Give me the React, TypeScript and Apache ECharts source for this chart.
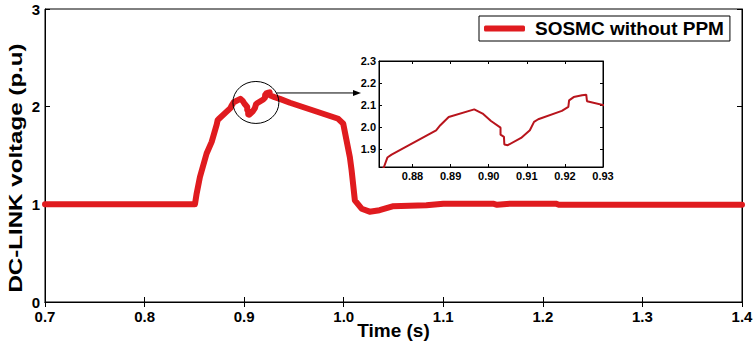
import React, { useEffect, useRef } from "react";
import * as echarts from "echarts";

// Main trace: [time (s), DC-link voltage (p.u)]
const timeValues: number[] = [
  0.7, 0.8506, 0.8523, 0.8556, 0.8623, 0.8674, 0.8725, 0.8734, 0.8745, 0.8862,
  0.8873, 0.8895, 0.8962, 0.8984, 0.9006, 0.9031, 0.9031, 0.904, 0.9041, 0.905,
  0.9085, 0.9108, 0.9119, 0.913, 0.9192, 0.9209, 0.9211, 0.9223, 0.9245, 0.9256,
  0.9258, 0.9305, 0.9359, 0.946, 0.9945, 0.9995, 1.0062, 1.0079, 1.0112, 1.018,
  1.026, 1.036, 1.049, 1.083, 1.1, 1.15, 1.154, 1.167, 1.213, 1.216, 1.4,
];
const voltageValues: number[] = [
  1.0, 1.0, 1.11, 1.28, 1.52, 1.64, 1.818, 1.861, 1.874, 1.985,
  2.008, 2.045, 2.08, 2.061, 2.027, 1.997, 1.965, 1.955, 1.92, 1.917,
  1.95, 1.985, 2.023, 2.035, 2.073, 2.091, 2.121, 2.136, 2.144, 2.147,
  2.117, 2.098, 2.08, 2.04, 1.876, 1.826, 1.48, 1.35, 1.04, 0.955,
  0.925, 0.94, 0.98, 0.99, 1.007, 1.007, 0.995, 1.007, 1.007, 0.995, 0.995,
];

const mainXTicks = { min: 0.7, max: 1.4, interval: 0.1 };
const mainYTicks = { min: 0, max: 3, interval: 1 };
const insetXTickValues: number[] = [0.88, 0.89, 0.9, 0.91, 0.92, 0.93];
const insetYTickValues: number[] = [1.9, 2.0, 2.1, 2.2, 2.3];
const insetXRange: number[] = [0.8712, 0.93];
const insetYRange: number[] = [1.818, 2.3];
const zoomCenter: number[] = [0.9118, 2.043];

const seriesName = "SOSMC without PPM";
const FONT = '"Liberation Sans", Arial, sans-serif';

export default function App() {
  const ref = useRef<HTMLDivElement>(null);

  useEffect(() => {
    if (!ref.current) return;
    const chart = echarts.init(ref.current, null, { renderer: "svg" });
    const data = timeValues.map((t, i) => [t, voltageValues[i]]);

    const mainGrid = { left: 45, right: 14, top: 9, bottom: 42 };
    const insetGrid = { left: 379, top: 61, width: 224, height: 106 };

    const axisLine = { show: true, lineStyle: { color: "#000", width: 1 } };

    chart.setOption({
      animation: false,
      backgroundColor: "#fff",
      textStyle: { fontFamily: FONT },
      grid: [
        { ...mainGrid, show: true, borderColor: "#000", borderWidth: 1, backgroundColor: "#fff",
          containLabel: false, outerBoundsMode: "none" },
        { ...insetGrid, show: true, borderColor: "#000", borderWidth: 1, backgroundColor: "#fff", z: 5,
          containLabel: false, outerBoundsMode: "none" },
      ],
      legend: {
        data: [seriesName],
        left: 479,
        top: 16,
        padding: [3, 6, 3, 5],
        itemWidth: 41,
        itemHeight: 6,
        icon: "roundRect",
        borderColor: "#000",
        borderWidth: 1,
        backgroundColor: "#fff",
        textStyle: { fontSize: 19, fontWeight: "bold", color: "#000", fontFamily: FONT, padding: [0, 0, 0, 5] },
      },
      xAxis: [
        {
          type: "value", gridIndex: 0, position: "bottom",
          ...mainXTicks,
          axisLine, splitLine: { show: false },
          axisTick: { inside: true, length: 5, lineStyle: { color: "#000" } },
          axisLabel: { color: "#000", fontWeight: "bold", fontSize: 15, margin: 7, fontFamily: FONT,
            formatter: (v: number) => v.toFixed(1) },
          name: "Time (s)", nameLocation: "middle", nameGap: 19, nameMoveOverlap: false,
          nameTextStyle: { color: "#000", fontWeight: "bold", fontSize: 19, fontFamily: FONT, verticalAlign: "top" },
        },
        {
          type: "value", gridIndex: 0, position: "top",
          ...mainXTicks,
          axisLine, splitLine: { show: false },
          axisTick: { inside: true, length: 5, lineStyle: { color: "#000" } },
          axisLabel: { show: false },
        },
        {
          type: "value", gridIndex: 1, position: "bottom",
          min: insetXRange[0], max: insetXRange[1],
          axisLine, splitLine: { show: false },
          axisTick: { inside: true, length: 3, customValues: insetXTickValues, lineStyle: { color: "#000" } },
          axisLabel: { color: "#000", fontWeight: "bold", fontSize: 11, margin: 3, fontFamily: FONT,
            customValues: insetXTickValues, formatter: (v: number) => v.toFixed(2) },
          z: 6,
        },
        {
          type: "value", gridIndex: 1, position: "top",
          min: insetXRange[0], max: insetXRange[1],
          axisLine, splitLine: { show: false },
          axisTick: { inside: true, length: 3, customValues: insetXTickValues, lineStyle: { color: "#000" } },
          axisLabel: { show: false, customValues: insetXTickValues },
          z: 6,
        },
      ],
      yAxis: [
        {
          type: "value", gridIndex: 0, position: "left",
          ...mainYTicks,
          axisLine, splitLine: { show: false },
          axisTick: { inside: true, length: 5, lineStyle: { color: "#000" } },
          axisLabel: { color: "#000", fontWeight: "bold", fontSize: 15, margin: 5, fontFamily: FONT },
        },
        {
          type: "value", gridIndex: 0, position: "right",
          ...mainYTicks,
          axisLine, splitLine: { show: false },
          axisTick: { inside: true, length: 5, lineStyle: { color: "#000" } },
          axisLabel: { show: false },
        },
        {
          type: "value", gridIndex: 1, position: "left",
          min: insetYRange[0], max: insetYRange[1],
          axisLine, splitLine: { show: false },
          axisTick: { inside: true, length: 3, customValues: insetYTickValues, lineStyle: { color: "#000" } },
          axisLabel: { color: "#000", fontWeight: "bold", fontSize: 11, margin: 3, fontFamily: FONT,
            customValues: insetYTickValues, formatter: (v: number) => v.toFixed(1) },
          z: 6,
        },
        {
          type: "value", gridIndex: 1, position: "right",
          min: insetYRange[0], max: insetYRange[1],
          axisLine, splitLine: { show: false },
          axisTick: { inside: true, length: 3, customValues: insetYTickValues, lineStyle: { color: "#000" } },
          axisLabel: { show: false, customValues: insetYTickValues },
          z: 6,
        },
      ],
      series: [
        {
          name: seriesName, type: "line", xAxisIndex: 0, yAxisIndex: 0,
          data, showSymbol: false, symbol: "none",
          color: "#e01b1f",
          lineStyle: { width: 6, color: "#e01b1f", cap: "round", join: "round" },
          z: 2,
        },
        {
          name: "inset", type: "line", xAxisIndex: 2, yAxisIndex: 2,
          data, showSymbol: false, symbol: "none", clip: true,
          lineStyle: { width: 2, color: "#b8141c" },
          z: 7,
        },
      ],
      graphic: [
        {
          type: "text", id: "ytitle", x: 15, y: 168, rotation: Math.PI / 2, scaleX: 1.27,
          style: { text: "DC-LINK voltage (p.u)", font: `bold 19px ${FONT}`, fill: "#000",
            align: "center", verticalAlign: "middle" },
        },
      ],
    });

    const c = chart.convertToPixel({ gridIndex: 0 }, zoomCenter) as number[];
    const rx = 23, ry = 21;
    const dy = -9.5;
    const sx = c[0] + rx * Math.sqrt(1 - (dy / ry) * (dy / ry));
    const ay = c[1] + dy;
    const tipX = insetGrid.left - 18;
    chart.setOption({
      graphic: [
        {
          type: "text", id: "ytitle", x: 15, y: 168, rotation: Math.PI / 2, scaleX: 1.27,
          style: { text: "DC-LINK voltage (p.u)", font: `bold 19px ${FONT}`, fill: "#000",
            align: "center", verticalAlign: "middle" },
        },
        { type: "ellipse", id: "circ", z: 10, shape: { cx: c[0], cy: c[1], rx, ry },
          style: { fill: "none", stroke: "#000", lineWidth: 1 } },
        { type: "line", id: "arrowLine", z: 10, shape: { x1: sx, y1: ay, x2: tipX - 6, y2: ay },
          style: { stroke: "#000", lineWidth: 1 } },
        { type: "polygon", id: "arrowHead", z: 10,
          shape: { points: [[tipX - 8, ay - 3], [tipX, ay], [tipX - 8, ay + 3]] },
          style: { fill: "#000" } },
      ],
    });

    return () => chart.dispose();
  }, []);

  return (
    <div
      ref={ref}
      style={{ position: "fixed", left: 0, top: 0, width: 756, height: 344 }}
    />
  );
}
